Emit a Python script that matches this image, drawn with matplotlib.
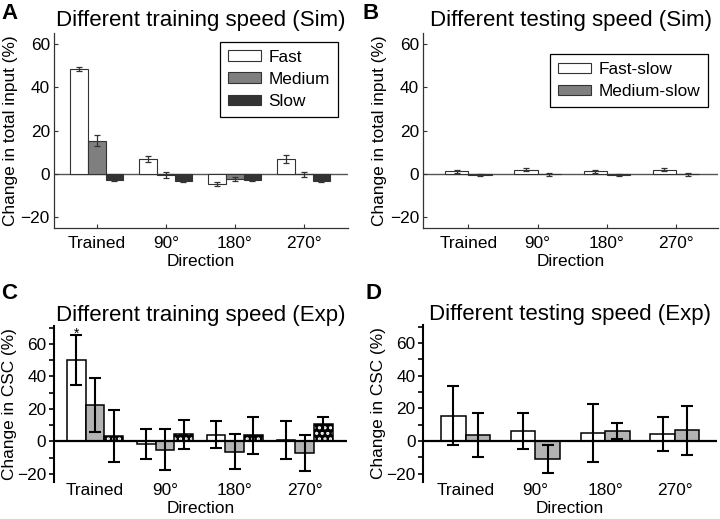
import numpy as np
import matplotlib
matplotlib.use('Agg')
import matplotlib.pyplot as plt

plt.rcParams['font.family'] = ['Liberation Sans', 'DejaVu Sans']
plt.rcParams['hatch.linewidth'] = 1.5

# ---- data ----
directions = ['Trained', '90°', '180°', '270°']

sim_train_fast = [48.3, 6.9, -4.7, 7.0]
sim_train_fast_err = [1.0, 1.3, 1.0, 1.8]
sim_train_medium = [15.2, -0.5, -2.5, -0.3]
sim_train_medium_err = [2.5, 1.2, 1.0, 1.0]
sim_train_slow = [-3.0, -3.5, -3.0, -3.5]
sim_train_slow_err = [0.3, 0.3, 0.3, 0.3]

sim_test_fastslow = [1.2, 1.9, 1.2, 1.9]
sim_test_fastslow_err = [0.6, 0.6, 0.6, 0.6]
sim_test_medslow = [-0.7, -0.3, -0.7, -0.3]
sim_test_medslow_err = [0.5, 0.5, 0.5, 0.5]

exp_train_fast = [50.0, -1.5, 4.2, 1.0]
exp_train_fast_err = [15.6, 9.2, 8.2, 11.8]
exp_train_medium = [22.2, -5.1, -6.3, -7.2]
exp_train_medium_err = [16.5, 12.6, 10.8, 11.3]
exp_train_slow = [3.0, 4.3, 3.7, 10.8]
exp_train_slow_err = [16.0, 9.0, 11.3, 4.5]

exp_test_fastslow = [15.5, 6.3, 5.0, 4.5]
exp_test_fastslow_err = [18.0, 11.0, 17.7, 10.4]
exp_test_medslow = [3.7, -11.0, 6.0, 6.5]
exp_test_medslow_err = [13.3, 8.7, 4.8, 15.0]

x = np.arange(1, len(directions) + 1)

fig = plt.figure(figsize=(7.2, 5.19), dpi=100)
axA = fig.add_axes([0.075, 0.5607, 0.4083, 0.3757])
axB = fig.add_axes([0.588, 0.5607, 0.4097, 0.3757])
axC = fig.add_axes([0.075, 0.0713, 0.4065, 0.3006])
axD = fig.add_axes([0.588, 0.0713, 0.4075, 0.3025])

FS = 12.4
TFS = 16
edge_sim = '#333333'
legkw = dict(loc='upper right', fontsize=FS, fancybox=False, framealpha=1,
             edgecolor='black', handlelength=1.92, handleheight=0.55,
             labelspacing=0.42, borderpad=0.45, handletextpad=0.45,
             borderaxespad=0)


def sim_style(ax, xlim):
    ax.set_xlim(*xlim)
    ax.set_ylim(-25, 65)
    ax.set_yticks([-20, 0, 20, 40, 60])
    ax.set_xticks(x)
    ax.set_xticklabels(directions)
    ax.axhline(0, color='#555555', lw=1, zorder=1)
    for s in ['top', 'right']:
        ax.spines[s].set_visible(False)
    for s in ['left', 'bottom']:
        ax.spines[s].set_color('#333333')
        ax.spines[s].set_linewidth(0.9)
    ax.tick_params(direction='in', length=3, width=0.8, colors='#333333',
                   labelsize=FS, labelcolor='black')
    ax.tick_params(axis='x', pad=6)
    ax.tick_params(axis='y', pad=3)
    ax.set_xlabel('Direction', fontsize=FS, labelpad=2)
    ax.set_ylabel('Change in total input (%)', fontsize=FS, labelpad=2)


def exp_style(ax, xlim):
    ax.set_xlim(*xlim)
    ax.set_ylim(-25, 71)
    ax.set_yticks([-20, 0, 20, 40, 60])
    ax.set_yticks(np.arange(-20, 71, 10), minor=True)
    ax.set_xticks(x)
    ax.set_xticklabels(directions)
    ax.axhline(0, color='black', lw=1.6, zorder=3)
    for s in ['top', 'right', 'bottom']:
        ax.spines[s].set_visible(False)
    ax.spines['left'].set_linewidth(1.5)
    ax.tick_params(axis='y', which='both', direction='out', length=3.5,
                   width=1.2, labelsize=FS, pad=2)
    ax.tick_params(axis='x', length=0, labelsize=FS, pad=1)
    ax.set_xlabel('Direction', fontsize=FS, labelpad=2)
    ax.set_ylabel('Change in CSC (%)', fontsize=FS, labelpad=0)


# ---- A ----
w = 0.255
ekw = dict(ecolor='#333333', elinewidth=0.9, capsize=2.5, capthick=0.9)
axA.bar(x - w, sim_train_fast, w, yerr=sim_train_fast_err, color='white',
        edgecolor=edge_sim, lw=0.8, error_kw=ekw, label='Fast', zorder=2)
axA.bar(x, sim_train_medium, w, yerr=sim_train_medium_err, color='#7f7f7f',
        edgecolor=edge_sim, lw=0.8, error_kw=ekw, label='Medium', zorder=2)
axA.bar(x + w, sim_train_slow, w, yerr=sim_train_slow_err, color='#333333',
        edgecolor=edge_sim, lw=0.8, error_kw=ekw, label='Slow', zorder=2)
sim_style(axA, (0.38, 4.64))
leg = axA.legend(bbox_to_anchor=(0.965, 0.955), **legkw)
leg.get_frame().set_linewidth(0.9)
axA.set_title('Different training speed (Sim)', fontsize=TFS, pad=5)

# ---- B ----
w = 0.337
axB.bar(x - w / 2, sim_test_fastslow, w, yerr=sim_test_fastslow_err,
        color='white', edgecolor=edge_sim, lw=0.8, error_kw=ekw,
        label='Fast-slow', zorder=2)
axB.bar(x + w / 2, sim_test_medslow, w, yerr=sim_test_medslow_err,
        color='#7f7f7f', edgecolor=edge_sim, lw=0.8, error_kw=ekw,
        label='Medium-slow', zorder=2)
sim_style(axB, (0.35, 4.61))
leg = axB.legend(bbox_to_anchor=(0.966, 0.891), **legkw)
leg.get_frame().set_linewidth(0.9)
axB.set_title('Different testing speed (Sim)', fontsize=TFS, pad=5)

# ---- C ----
w = 0.267
ekw2 = dict(ecolor='black', elinewidth=1.5, capsize=4, capthick=1.5, zorder=4)
axC.bar(x - w, exp_train_fast, w, color='white', edgecolor='black', lw=1.1,
        zorder=2)
axC.errorbar(x - w, exp_train_fast, yerr=exp_train_fast_err, fmt='none', **ekw2)
axC.bar(x, exp_train_medium, w, color='#b3b3b3', edgecolor='black', lw=1.1,
        zorder=2)
axC.errorbar(x, exp_train_medium, yerr=exp_train_medium_err, fmt='none', **ekw2)
axC.bar(x + w, exp_train_slow, w, color='black', edgecolor='white', lw=0,
        hatch='...', zorder=2)
axC.bar(x + w, exp_train_slow, w, fill=False, edgecolor='black', lw=1.1,
        zorder=2)
axC.errorbar(x + w, exp_train_slow, yerr=exp_train_slow_err, fmt='none', **ekw2)
axC.text(x[0] - w, exp_train_fast[0] + exp_train_fast_err[0] + 0.5, '*',
         ha='center', va='center', fontsize=10)
exp_style(axC, (0.414, 4.6))
axC.set_title('Different training speed (Exp)', fontsize=TFS, pad=3)

# ---- D ----
w = 0.35
axD.bar(x - w / 2, exp_test_fastslow, w, color='white', edgecolor='black',
        lw=1.1, zorder=2)
axD.errorbar(x - w / 2, exp_test_fastslow, yerr=exp_test_fastslow_err,
             fmt='none', **ekw2)
axD.bar(x + w / 2, exp_test_medslow, w, color='#b3b3b3', edgecolor='black',
        lw=1.1, zorder=2)
axD.errorbar(x + w / 2, exp_test_medslow, yerr=exp_test_medslow_err,
             fmt='none', **ekw2)
exp_style(axD, (0.395, 4.6))
axD.set_title('Different testing speed (Exp)', fontsize=TFS, pad=3)

# panel letters
for lx, ly, s in [(0.002, 0.995, 'A'), (0.503, 0.995, 'B'),
                  (0.002, 0.455, 'C'), (0.507, 0.455, 'D')]:
    fig.text(lx, ly, s, fontsize=16, fontweight='bold', ha='left', va='top')

fig.savefig('out.png', dpi=100)
